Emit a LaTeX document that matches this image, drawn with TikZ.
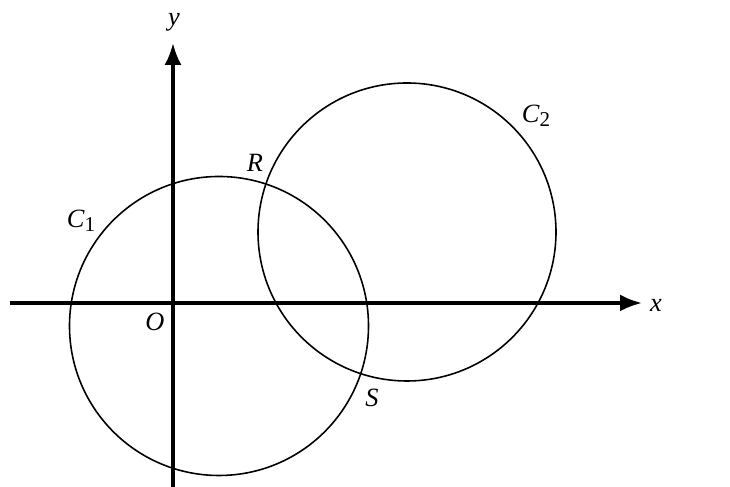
\documentclass[tikz,border=0pt]{standalone}
\usepackage{fontspec}
\setmainfont{Liberation Serif}
\usetikzlibrary{arrows.meta}
\tikzset{circsec/.style={x=1cm,y=1cm,font=\fontsize{15}{17}\selectfont},
  axis/.style={line width=1.9pt,-{Latex[length=4.4mm,width=3.4mm]}},
  curve/.style={line width=0.9pt}}
\newcommand{\sublab}[1]{\raisebox{-0.35ex}{\fontsize{12}{14}\selectfont #1}}

\begin{document}
\begin{tikzpicture}[circsec]
    \useasboundingbox (-3.46,-3.68) rectangle (11.14,6.06);
    \coordinate (O) at (0,0);
    \coordinate (xmin) at (-3.26,0);
    \coordinate (xmax) at (9.38,0);
    \coordinate (ymin) at (0,-3.68);
    \coordinate (ymax) at (0,5.2);
    \coordinate (c1) at (0.92,-0.46);
    \coordinate (c2) at (4.68,1.42);
    \draw[axis] (xmin) -- (xmax);
    \draw[axis] (ymin) -- (ymax);
    \draw[curve] (c1) circle (2.99);
    \draw[curve] (c2) circle (2.98);
    \node (xlab) at (9.66,-0.04) {\textit{x}};
    \node (ylab) at (0.02,5.62) {\textit{y}};
    \node (olab) at (-0.36,-0.38) {\textit{O}};
    \node (rlab) at (1.64,2.8) {\textit{R}};
    \node (slab) at (3.98,-1.9) {\textit{S}};
    \node (cone) at (-1.84,1.64) {\textit{C}\sublab{1}};
    \node (ctwo) at (7.26,3.74) {\textit{C}\sublab{2}};
  \end{tikzpicture}
\end{document}
